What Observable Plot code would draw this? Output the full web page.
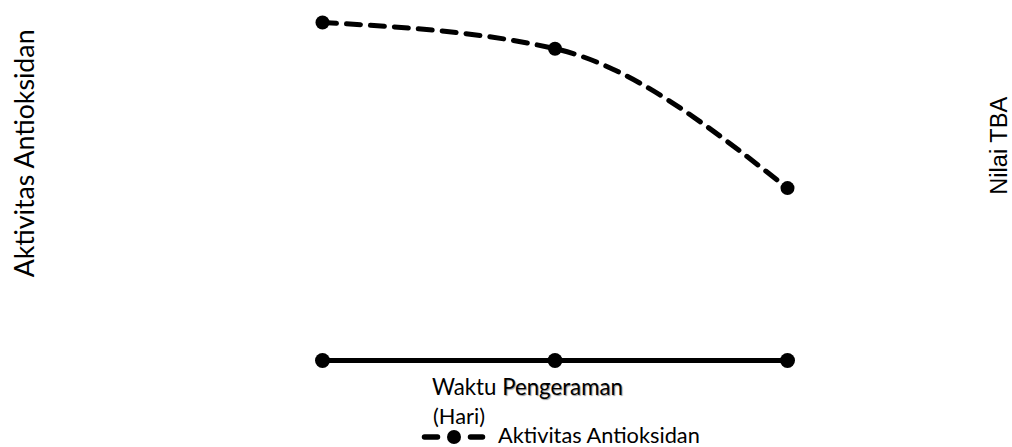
<!DOCTYPE html>
<html>
<head>
<meta charset="utf-8">
<script src="https://cdn.jsdelivr.net/npm/d3@7"></script>
<script src="https://cdn.jsdelivr.net/npm/@observablehq/plot@0.6"></script>
<style>
  html, body { margin: 0; padding: 0; background: #fff; }
  #wrap { position: relative; width: 1012px; height: 447px; overflow: hidden; font-family: Lato, "Open Sans", sans-serif; }
  #chart { position: absolute; left: 0; top: 0; }
  .ylab { position: absolute; color: #000; white-space: nowrap; line-height: 1; }
  .t { position: absolute; white-space: nowrap; color: #000; line-height: 1; }
  .sh { text-shadow: 1px 1px 1px #999; }
</style>
</head>
<body>
<div id="wrap">
  <div id="chart"></div>
  <div class="ylab" id="yl" style="font-family:Lato,sans-serif;">Aktivitas Antioksidan</div>
  <div class="ylab" id="yr" style="font-family:'Liberation Sans',Arial,sans-serif;">Nilai TBA</div>
  <div class="t" id="x1">Waktu <span class="sh">Pengeraman</span></div>
  <div class="t" id="x2">(Hari)</div>
  <svg id="legsw" width="70" height="20" style="position:absolute;left:418px;top:427px;"></svg>
  <div class="t" id="lg">Aktivitas Antioksidan</div>
</div>
<script>
// Data (no axes shown, so relative values)
const days = [1, 2, 3];
const antioksidan = [90, 86.9, 70.4];
const nilaiTBA = [0.5, 0.5, 0.5];

const yDomain = [50, 90];
const tbaToY = d3.scaleLinear().domain([0.5, 1.5]).range([50, 90]);

const antData = days.map((d, i) => ({day: d, value: antioksidan[i]}));
const tbaData = days.map((d, i) => ({day: d, value: tbaToY(nilaiTBA[i])}));

const chart = Plot.plot({
  width: 1012,
  height: 372,
  marginLeft: 322,
  marginRight: 225,
  marginTop: 22,
  marginBottom: 12,
  x: {domain: [1, 3], axis: null},
  y: {domain: yDomain, axis: null},
  marks: [
    Plot.line(tbaData, {x: "day", y: "value", stroke: "#000", strokeWidth: 5}),
    Plot.dot(tbaData, {x: "day", y: "value", r: 7.5, fill: "#000"}),
    Plot.line(antData, {x: "day", y: "value", stroke: "#000", strokeWidth: 5, strokeDasharray: "14,10", strokeLinecap: "round", curve: "monotone-x"}),
    Plot.dot(antData, {x: "day", y: "value", r: 7, fill: "#000"})
  ]
});
document.getElementById("chart").appendChild(chart);

// Legend swatch
const sw = d3.select("#legsw");
sw.append("line").attr("x1", 6.5).attr("x2", 64.5).attr("y1", 10).attr("y2", 10)
  .attr("stroke", "#000").attr("stroke-width", 5.5).attr("stroke-dasharray", "13,33").attr("stroke-linecap", "round");
sw.append("line").attr("x1", 30).attr("x2", 42).attr("y1", 10).attr("y2", 10)
  .attr("stroke", "#000").attr("stroke-width", 5.5);
sw.append("circle").attr("cx", 36).attr("cy", 10).attr("r", 7).attr("fill", "#000");

// Fit a text element to a target width
function fit(id, targetW) {
  const el = document.getElementById(id);
  el.style.fontSize = "20px";
  const w = el.getBoundingClientRect().width;
  el.style.fontSize = (20 * targetW / w) + "px";
  return el;
}
function placeText(id, left, cy, targetW) {
  const el = fit(id, targetW);
  el.style.left = left + "px";
  el.style.top = (cy - el.offsetHeight / 2) + "px";
}
function placeRot(id, cx, cy, targetLen) {
  const el = fit(id, targetLen);
  const w = el.offsetWidth, h = el.offsetHeight;
  el.style.left = (cx - w / 2) + "px";
  el.style.top = (cy - h / 2) + "px";
  el.style.transform = "rotate(-90deg)";
}
placeRot("yl", 23.5, 153, 248);
placeRot("yr", 999.5, 146, 98);
placeText("x1", 432, 387, 191);
placeText("x2", 433, 416, 52);
placeText("lg", 498, 436, 202);
</script>
</body>
</html>
